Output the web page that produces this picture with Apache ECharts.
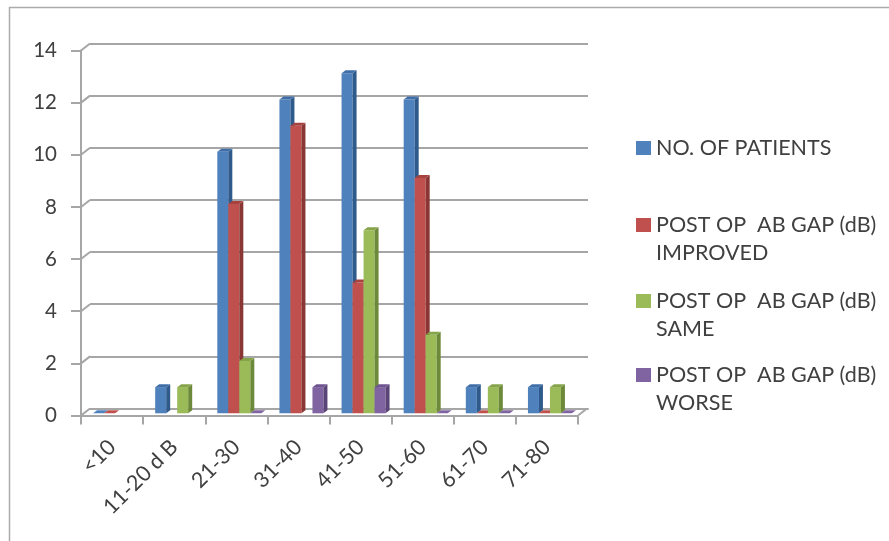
<!DOCTYPE html>
<html>
<head>
<meta charset="utf-8">
<style>html,body{margin:0;padding:0;background:#fff}#chart{width:889px;height:541px}</style>
<script src="https://cdn.jsdelivr.net/npm/echarts@6/dist/echarts.min.js"></script>
</head>
<body>
<div id="chart"></div>
<script>
// Air-bone gap groups and post-operative outcome counts
const categories = ['<10', '11-20 d B', '21-30', '31-40', '41-50', '51-60', '61-70', '71-80'];
const patients = [0, 1, 10, 12, 13, 12, 1, 1];
const improved = [0, null, 8, 11, 5, 9, 0, 0];
const same = [null, 1, 2, null, 7, 3, 1, 1];
const worse = [null, null, 0, 1, 1, 0, 0, 0];
const yTicks = [0, 2, 4, 6, 8, 10, 12, 14];

const names = ['NO. OF PATIENTS', 'POST OP  AB GAP (dB)\nIMPROVED', 'POST OP  AB GAP (dB)\nSAME', 'POST OP  AB GAP (dB)\nWORSE'];
const faces = ['#4F81BD', '#C0504D', '#9BBB59', '#8064A2'];
const sides = ['#2F5A8C', '#8A3634', '#6C8A3A', '#5A4478'];
const tops = ['#3F6EA8', '#A8423F', '#86A44A', '#6E5490'];
const legendTops = [129, 178, 254, 328];

const FONT = 'Lato';
const TEXT = '#404040';
const RULE = '#A6A6A6';
const DEPTH = { x: 9, y: -7 };     // offset of the back wall from the front edge
const BAR_W = 11;
const BAR_DEPTH = { x: 4, y: -3 };

const chart = echarts.init(document.getElementById('chart'), null, { renderer: 'canvas' });

// One three-sided column per value, placed through the category and value scales
function columnRenderer(seriesIdx) {
  return function (params, api) {
    const base = api.coord([api.value(0), 0]);
    const tip = api.coord([api.value(0), api.value(1)]);
    const x0 = base[0] + (seriesIdx - 2) * BAR_W;
    const x1 = x0 + BAR_W;
    const y0 = base[1];
    const y1 = tip[1];
    const dx = BAR_DEPTH.x, dy = BAR_DEPTH.y;
    const children = [];
    if (y0 - y1 > 0.5) {
      children.push({ type: 'rect', shape: { x: x0, y: y1, width: BAR_W, height: y0 - y1 }, style: { fill: faces[seriesIdx] } });
      children.push({ type: 'polygon', shape: { points: [[x1, y1], [x1 + dx, y1 + dy], [x1 + dx, y0 + dy], [x1, y0]] }, style: { fill: sides[seriesIdx] } });
    }
    children.push({
      type: 'polygon',
      shape: { points: [[x0, y1], [x1, y1], [x1 + dx, y1 + dy], [x0 + dx, y1 + dy]] },
      style: { fill: y0 - y1 > 0.5 ? tops[seriesIdx] : faces[seriesIdx] }
    });
    return { type: 'group', children };
  };
}

// Short slanted rules joining the front axis to the back wall
function wallRenderer(params, api) {
  const y = api.coord([0, api.value(0)])[1];
  const x = params.coordSys.x;
  const style = { stroke: RULE, lineWidth: 2, fill: null };
  const lines = [{ type: 'line', shape: { x1: x, y1: y, x2: x + DEPTH.x, y2: y + DEPTH.y }, style }];
  if (api.value(0) === 0) {
    const xr = x + params.coordSys.width;
    lines.push({ type: 'line', shape: { x1: xr, y1: y, x2: xr + DEPTH.x, y2: y + DEPTH.y }, style });
  }
  return { type: 'group', children: lines };
}

const columnSeries = [patients, improved, same, worse].map((values, i) => ({
  type: 'custom',
  name: names[i],
  xAxisIndex: 2,
  yAxisIndex: 2,
  z: 5 + i,
  clip: false,
  itemStyle: { color: faces[i] },
  renderItem: columnRenderer(i),
  encode: { x: 0, y: 1 },
  data: values.map((v, c) => [c, v]).filter(d => d[1] !== null)
}));

chart.setOption({
  animation: false,
  backgroundColor: '#fff',
  // front plane, back wall, and the plane the columns stand on
  grid: [
    { left: 81, top: 50.5, width: 497, height: 365 },
    { left: 81 + DEPTH.x, top: 50.5 + DEPTH.y, width: 498, height: 365 },
    { left: 84, top: 47.2, width: 497, height: 366.1 }
  ],
  xAxis: [
    {
      type: 'category', gridIndex: 0, data: categories,
      axisLine: { lineStyle: { color: RULE, width: 2 } },
      axisTick: { show: true, length: 9, alignWithLabel: false, lineStyle: { color: RULE, width: 2 } },
      axisLabel: { interval: 0, rotate: 45, margin: 28, fontFamily: FONT, fontSize: 21.5, color: TEXT }
    },
    { type: 'category', gridIndex: 1, data: categories, show: true, axisLine: { lineStyle: { color: RULE, width: 2 } }, axisTick: { show: false }, axisLabel: { show: false } },
    { type: 'category', gridIndex: 2, data: categories, show: false }
  ],
  yAxis: [
    {
      type: 'value', gridIndex: 0, min: 0, max: 14, interval: 2,
      axisLine: { show: true, lineStyle: { color: RULE, width: 2 } },
      axisTick: { show: true, length: 10, lineStyle: { color: RULE, width: 2 } },
      axisLabel: { margin: 24, fontFamily: FONT, fontSize: 20.5, color: TEXT },
      splitLine: { show: false }
    },
    {
      type: 'value', gridIndex: 1, min: 0, max: 14, interval: 2,
      axisLine: { show: false }, axisTick: { show: false }, axisLabel: { show: false },
      splitLine: { show: true, lineStyle: { color: RULE, width: 2, type: 'solid' } }
    },
    { type: 'value', gridIndex: 2, min: 0, max: 14, interval: 2, show: false, splitLine: { show: false } }
  ],
  // Each entry is placed on its own; two-line names get a blank first line so the
  // swatch sits beside the first line of text
  legend: names.map((n, i) => ({
    data: [n],
    left: 631,
    top: legendTops[i],
    itemWidth: 15,
    itemHeight: 14,
    itemGap: 0,
    icon: 'rect',
    selectedMode: false,
    formatter: name => (name.includes('\n') ? '\n' + name : name),
    textStyle: { fontFamily: FONT, fontSize: 21.5, lineHeight: 28, color: TEXT }
  })),
  series: [
    {
      type: 'custom',
      name: 'wall',
      xAxisIndex: 0,
      yAxisIndex: 0,
      z: 1,
      clip: false,
      silent: true,
      renderItem: wallRenderer,
      encode: { y: 0 },
      data: yTicks.map(v => [v])
    }
  ].concat(columnSeries),
  graphic: [{
    type: 'polyline',
    silent: true,
    shape: { points: [[889, 7.5], [9.5, 7.5], [9.5, 541]] },
    style: { stroke: '#ABABAB', lineWidth: 1.5, fill: null }
  }]
});
</script>
</body>
</html>
